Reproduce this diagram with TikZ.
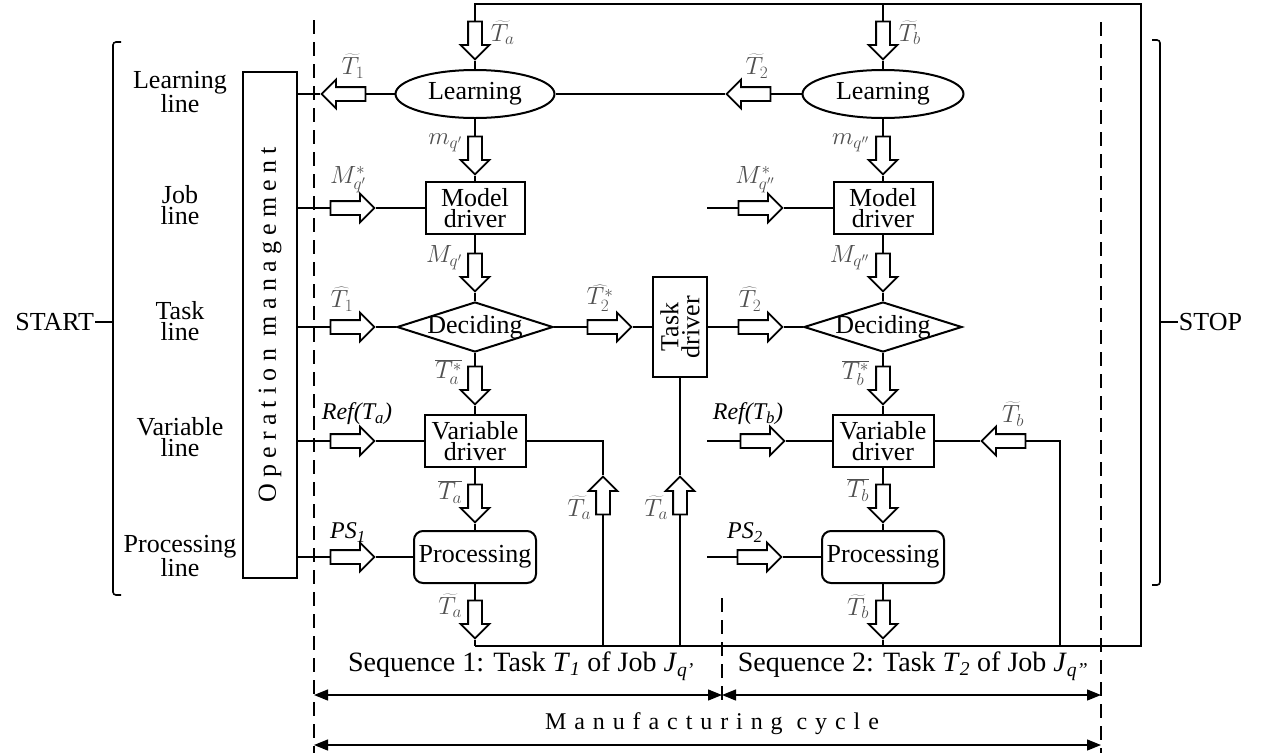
\documentclass[tikz,border=0pt]{standalone}
\usepackage{fontspec}
\setmainfont{Liberation Serif}
\newfontfamily\spacedA[LetterSpace=24]{Liberation Serif}
\newfontfamily\spacedB[LetterSpace=33]{Liberation Serif}
\usetikzlibrary{shapes.geometric,shapes.arrows,arrows.meta,calc}
\definecolor{lab}{RGB}{80,80,80}
\begin{document}
\begin{tikzpicture}[x=1pt,y=-1pt,line width=1.8pt,
  txt/.style={font=\fontsize{26}{21}\selectfont, align=center, inner sep=0pt},
  blk/.style={txt, draw, line width=2pt},
  lbl/.style={text=lab, font=\fontsize{26}{26}\selectfont, inner sep=0pt},
  ilbl/.style={font=\fontsize{24}{24}\selectfont\itshape, inner sep=0pt},
  harr/.style={single arrow, draw, fill=white, line width=1.8pt, inner sep=6pt, minimum width=27pt, single arrow head extend=7.5pt, single arrow tip angle=90, minimum height=#1},
  arR/.style={harr=44pt, shape border rotate=0},
  arL/.style={harr=44pt, shape border rotate=180},
  arD/.style={harr=38pt, shape border rotate=270},
  arU/.style={harr=38pt, shape border rotate=90},
  dashln/.style={line width=2.2pt, dash pattern=on 14pt off 8pt},
  dim/.style={line width=1.3pt, {Triangle[length=14pt,width=11pt]}-{Triangle[length=14pt,width=11pt]}},
  brk/.style={line width=1.6pt, rounded corners=3pt}
]
\useasboundingbox (0,0) rectangle (1261,753);

% ---------- left side ----------
\node[txt, anchor=east] (start) at (95,322) {START};
\coordinate (brL) at (113,322);
\draw[brk] (121,42) -- (113,42) -- (113,595) -- (121,595);
\draw[line width=1.6pt] (start.east) -- (brL);

\node[txt] (lLearn) at (180,92) {Learning\\line};
\node[txt] (lJob) at (180,205) {Job\\line};
\node[txt] (lTask) at (180,321) {Task\\line};
\node[txt] (lVar) at (180,437) {Variable\\line};
\node[txt] (lProc) at (180,556) {Processing\\line};

\node[draw, line width=2pt, rotate=90, minimum width=506pt, minimum height=54pt, inner sep=0pt,
      font=\spacedA\fontsize{26}{26}\selectfont] (opm) at (270,325) {Operation management};

% ---------- main nodes ----------
\node[txt, draw, ellipse, line width=2pt, minimum width=159pt, minimum height=48pt] (L1) at (475,94) {Learning};
\node[txt, draw, ellipse, line width=2pt, minimum width=161pt, minimum height=48pt] (L2) at (883,94) {Learning};
\node[blk, minimum width=99pt, minimum height=52pt] (MD1) at (475,208) {Model\\driver};
\node[blk, minimum width=99pt, minimum height=52pt] (MD2) at (883,208) {Model\\driver};
\node[draw, diamond, line width=2pt, minimum width=156pt, minimum height=50pt, inner sep=0pt,
      label={[txt]center:Deciding}] (D1) at (475,327) {};
\node[draw, diamond, line width=2pt, minimum width=158pt, minimum height=50pt, inner sep=0pt,
      label={[txt]center:Deciding}] (D2) at (883,327) {};
\node[blk, rotate=90, minimum width=100pt, minimum height=54pt] (TD) at (680,327) {Task\\driver};
\node[blk, minimum width=101pt, minimum height=52pt] (VD1) at (475,441) {Variable\\driver};
\node[blk, minimum width=101pt, minimum height=52pt] (VD2) at (883,441) {Variable\\driver};
\node[blk, rounded corners=9pt, minimum width=122pt, minimum height=52pt] (P1) at (475,557) {Processing};
\node[blk, rounded corners=9pt, minimum width=122pt, minimum height=52pt] (P2) at (883,557) {Processing};

% ---------- hollow arrows ----------
\node[arD] (aTa) at (475,37) {};
\node[arD] (aTb) at (883,37) {};
\node[arL] (aT1) at (347,94) {};
\node[arL] (aT2) at (752,94) {};
\node[arD] (amq1) at (475,152) {};
\node[arD] (amq2) at (883,152) {};
\node[arR] (aMs1) at (349,208) {};
\node[arR] (aMs2) at (757,208) {};
\node[arD] (aM1) at (475,269) {};
\node[arD] (aM2) at (883,269) {};
\node[arR] (aTh1) at (349,327) {};
\node[arR] (aTs2) at (606,327) {};
\node[arR] (aTh2) at (757,327) {};
\node[arD] (aTsa) at (475,382) {};
\node[arD] (aTsb) at (883,382) {};
\node[arR] (aRa) at (349,441) {};
\node[arR] (aRb) at (759,441) {};
\node[arL] (aTbv) at (1007,441) {};
\node[arD] (aTav) at (475,500) {};
\node[arD] (aTbw) at (883,500) {};
\node[arU] (aU1) at (603,499) {};
\node[arU] (aU2) at (680,499) {};
\node[arR] (aPS1) at (349,557) {};
\node[arR] (aPS2) at (756,557) {};
\node[arD] (aTap) at (475,616) {};
\node[arD] (aTbp) at (883,616) {};

% ---------- coordinates ----------
\coordinate (tl) at (475,4);
\coordinate (tm) at (883,4);
\coordinate (tr) at (1141,4);
\coordinate (br) at (1141,646);
\coordinate (bl) at (475,646);
\coordinate (bb) at (883,646);
\coordinate (jR) at (707,208);
\coordinate (vR) at (707,441);
\coordinate (pR) at (707,557);
\coordinate (v1c) at (603,441);
\coordinate (v1b) at (603,646);
\coordinate (v2c) at (1060,441);
\coordinate (v2b) at (1060,646);
\coordinate (tdb) at (680,646);

% ---------- connectors ----------
\draw (bl) -- (br) -- (tr) -- (tl) -- (aTa.tail);
\draw (tm) -- (aTb.tail);
\draw (aTa.tip) -- (L1.north) (aTb.tip) -- (L2.north);
\draw (opm.south |- aT1) -- (aT1.tip) (aT1.tail) -- (L1.west);
\draw (L1.east) -- (aT2.tip) (aT2.tail) -- (L2.west);
\draw (L1.south) -- (amq1.tail) (amq1.tip) -- (MD1.north)
      (MD1.south) -- (aM1.tail) (aM1.tip) -- (D1.north)
      (D1.south) -- (aTsa.tail) (aTsa.tip) -- (VD1.north)
      (VD1.south) -- (aTav.tail) (aTav.tip) -- (P1.north)
      (P1.south) -- (aTap.tail) (aTap.tip) -- (bl);
\draw (L2.south) -- (amq2.tail) (amq2.tip) -- (MD2.north)
      (MD2.south) -- (aM2.tail) (aM2.tip) -- (D2.north)
      (D2.south) -- (aTsb.tail) (aTsb.tip) -- (VD2.north)
      (VD2.south) -- (aTbw.tail) (aTbw.tip) -- (P2.north)
      (P2.south) -- (aTbp.tail) (aTbp.tip) -- (bb);
\draw (opm.south |- aMs1) -- (aMs1.tail) (aMs1.tip) -- (MD1.west);
\draw (jR) -- (aMs2.tail) (aMs2.tip) -- (MD2.west);
\draw (opm.south |- aTh1) -- (aTh1.tail) (aTh1.tip) -- (D1.west)
      (D1.east) -- (aTs2.tail) (aTs2.tip) -- (TD.north)
      (TD.south) -- (aTh2.tail) (aTh2.tip) -- (D2.west);
\draw (opm.south |- aRa) -- (aRa.tail) (aRa.tip) -- (VD1.west)
      (VD1.east) -- (v1c) -- (aU1.tip) (aU1.tail) -- (v1b);
\draw (vR) -- (aRb.tail) (aRb.tip) -- (VD2.west)
      (VD2.east) -- (aTbv.tip) (aTbv.tail) -- (v2c) -- (v2b);
\draw (opm.south |- aPS1) -- (aPS1.tail) (aPS1.tip) -- (P1.west);
\draw (pR) -- (aPS2.tail) (aPS2.tip) -- (P2.west);
\draw (TD.west) -- (aU2.tip) (aU2.tail) -- (tdb);

% ---------- labels ----------
\node[lbl, anchor=west] (tTa) at (490,33) {$\widetilde{T_a}$};
\node[lbl, anchor=west] (tTb) at (898,33) {$\widetilde{T_b}$};
\node[lbl, anchor=south] (tT1) at (353,79) {$\widetilde{T}_1$};
\node[lbl, anchor=south] (tT2) at (757,79) {$\widetilde{T}_2$};
\node[lbl, anchor=east] (tmq1) at (463,143) {$m_{q'}$};
\node[lbl, anchor=east] (tmq2) at (870,143) {$m_{q''}$};
\node[lbl, anchor=south] (tMs1) at (348,194) {$M^*_{q'}$};
\node[lbl, anchor=south] (tMs2) at (755,194) {$M^*_{q''}$};
\node[lbl, anchor=east] (tM1) at (463,258) {$M_{q'}$};
\node[lbl, anchor=east] (tM2) at (870,258) {$M_{q''}$};
\node[lbl, anchor=south] (tTh1) at (342,312) {$\widehat{T}_1$};
\node[lbl, anchor=south] (tTs2) at (600,312) {$\widehat{T_2^*}$};
\node[lbl, anchor=south] (tTh2) at (750,312) {$\widehat{T}_2$};
\node[lbl, anchor=east] (tTsa) at (463,372) {$\overline{T_a^*}$};
\node[lbl, anchor=east] (tTsb) at (870,373) {$\overline{T_b^*}$};
\node[ilbl, anchor=south] (tRa) at (357,426) {Ref(T\textsubscript{a})};
\node[ilbl, anchor=south] (tRb) at (748,426) {Ref(T\textsubscript{b})};
\node[lbl, anchor=east] (tTba) at (463,492) {$\overline{T_a}$};
\node[lbl, anchor=east] (tTbb) at (870,490) {$\overline{T_b}$};
\node[lbl, anchor=east] (tU1) at (592,508) {$\widetilde{T_a}$};
\node[lbl, anchor=east] (tU2) at (669,508) {$\widetilde{T_a}$};
\node[lbl, anchor=south] (tTbv) at (1013,427) {$\widetilde{T_b}$};
\node[ilbl, anchor=south] (tPS1) at (348,543) {PS\textsubscript{1}};
\node[ilbl, anchor=south] (tPS2) at (745,543) {PS\textsubscript{2}};
\node[lbl, anchor=east] (tTap) at (463,606) {$\widetilde{T_a}$};
\node[lbl, anchor=east] (tTbp) at (870,607) {$\widetilde{T_b}$};

% ---------- right side ----------
\draw[brk] (1152,40) -- (1160,40) -- (1160,585) -- (1152,585);
\node[txt, anchor=west] (stop) at (1178,322) {STOP};
\draw[line width=1.6pt] (1160,322) -- (stop.west);

% ---------- dashed boundaries ----------
\coordinate (dL1) at (314,20);
\coordinate (dL2) at (314,753);
\coordinate (dR1) at (1101,22);
\coordinate (dR2) at (1101,753);
\coordinate (dM1) at (722,598);
\coordinate (dM2) at (722,702);
\draw[dashln] (dL1) -- (dL2);
\draw[dashln] (dR1) -- (dR2);
\draw[dashln] (dM1) -- (dM2);

% ---------- bottom dimensions ----------
\coordinate (s1) at (314,695);
\coordinate (s2) at (722,695);
\coordinate (s3) at (1101,695);
\coordinate (m1) at (314,745);
\coordinate (m2) at (1101,745);
\draw[dim] (s1) -- (s2);
\draw[dim] (s2) -- (s3);
\draw[dim] (m1) -- (m2);
\node[txt, font=\fontsize{28}{28}\selectfont] (seq1) at (521,666) {Sequence 1: Task \textit{T}\textsubscript{\textit{1}} of Job \textit{J}\textsubscript{\textit{q'}}};
\node[txt, font=\fontsize{28}{28}\selectfont] (seq2) at (913,666) {Sequence 2: Task \textit{T}\textsubscript{\textit{2}} of Job \textit{J}\textsubscript{\textit{q''}}};
\node[txt, font=\spacedB\fontsize{24}{24}\selectfont] (mfc) at (712,724) {Manufacturing cycle};
\end{tikzpicture}
\end{document}
